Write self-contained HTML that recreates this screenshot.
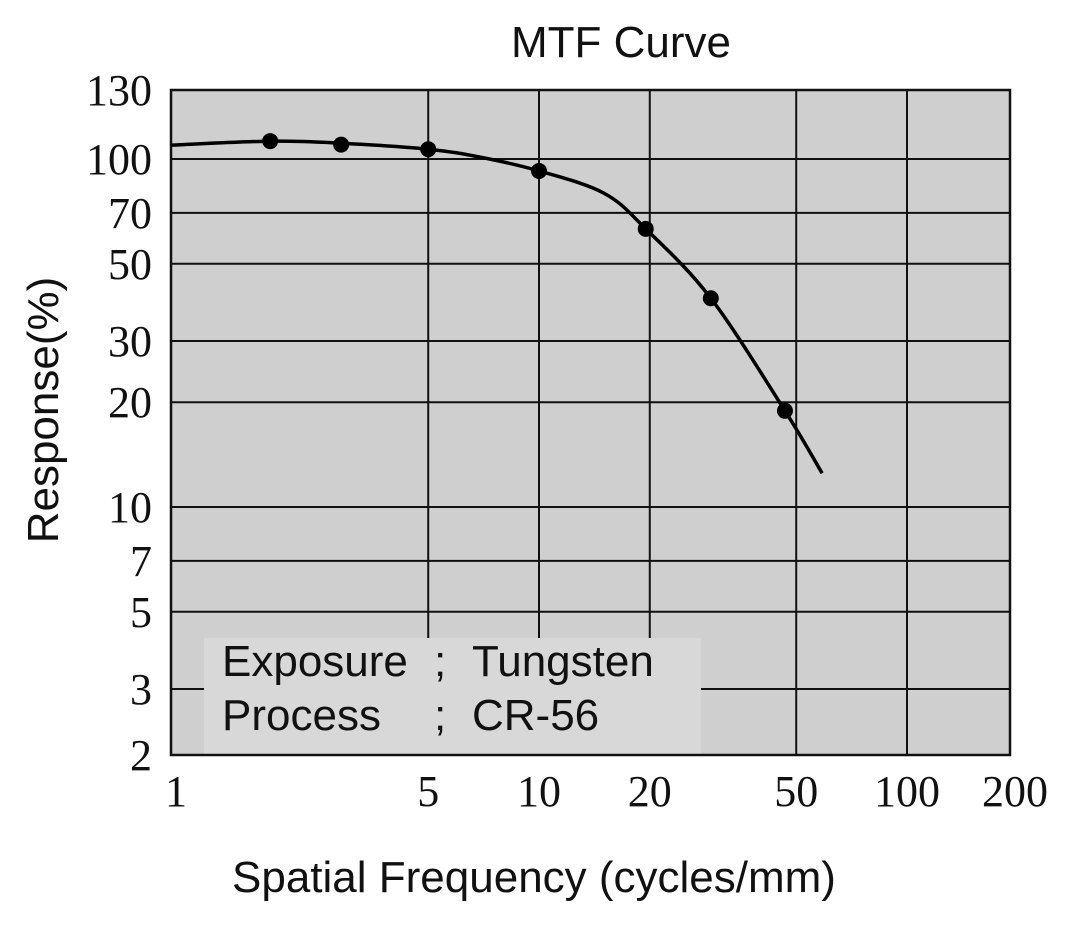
<!DOCTYPE html>
<html><head><meta charset="utf-8"><style>
body{margin:0;background:#fff}
svg{display:block}
.tk{font-family:"Liberation Serif",serif;font-size:44px;fill:#111}
.sn{font-family:"Liberation Sans",sans-serif;fill:#111}
</style></head><body>
<svg id="chart" width="1072" height="925" viewBox="0 0 1072 925">
<rect x="171" y="90" width="839" height="665" fill="#cfcfcf"/>
<g id="grid"></g>
<rect x="204" y="638" width="497" height="116" fill="#d8d8d8"/>
<text class="sn" x="222" y="676" font-size="44">Exposure</text>
<text class="sn" x="434" y="676" font-size="44">;</text>
<text class="sn" x="472" y="676" font-size="44">Tungsten</text>
<text class="sn" x="222" y="730" font-size="44">Process</text>
<text class="sn" x="434" y="730" font-size="44">;</text>
<text class="sn" x="472" y="730" font-size="44">CR-56</text>
<rect x="171" y="90" width="839" height="665" fill="none" stroke="#111" stroke-width="2.5"/>
<g id="marks"></g>
<g id="ticks"></g>
<text class="sn" x="621" y="57" font-size="44" text-anchor="middle">MTF Curve</text>
<text class="sn" x="534" y="892" font-size="44" text-anchor="middle">Spatial Frequency (cycles/mm)</text>
<text class="sn" transform="translate(58,410) rotate(-90)" font-size="44" text-anchor="middle">Response(%)</text>
</svg>
<script>
const xTicks=[1,5,10,20,50,100,200];
const yTicks=[130,100,70,50,30,20,10,7,5,3,2];
const pointFreq=[1.86,2.9,5,10,19.5,29.3,46.6];
const pointResp=[112.6,110,106.7,92.4,63,39.8,18.9];
const curveFreq=[1,1.86,2.9,5,7,10,15,19.5,29.3,46.6,58.8];
const curveResp=[109.6,112.5,111,106.7,101,92.4,79.8,63,39.8,18.9,12.5];
const X=v=>171+368*Math.log10(v);
const Y=v=>Math.max(90,507-348*Math.log10(v/10));
const NS="http://www.w3.org/2000/svg";
function mk(t,a,p){const e=document.createElementNS(NS,t);for(const k in a)e.setAttribute(k,a[k]);p.appendChild(e);return e;}
const grid=document.getElementById('grid'),ticks=document.getElementById('ticks'),marks=document.getElementById('marks');
xTicks.forEach(v=>{const x=X(v);
 if(v>1&&x<1005){const l=mk('line',{x1:x,x2:x,y1:90,y2:755,stroke:'#111','stroke-width':2},grid);
 
 }
 const t=mk('text',{x:v==200?1015:(v==1?176:x),y:806,class:'tk','text-anchor':'middle'},ticks);t.textContent=v;
 
 });
yTicks.forEach(v=>{const y=v==130?90:(v==2?755:Y(v));
 if(v!=130&&v!=2){const l=mk('line',{x1:171,x2:1010,y1:y,y2:y,stroke:'#111','stroke-width':2},grid);
 
 }
 const t=mk('text',{x:152,y:y+15,class:'tk','text-anchor':'end'},ticks);t.textContent=v;
 
 });
const P=curveFreq.map((f,i)=>[X(f),Y(curveResp[i])]);
let d='M'+P[0][0]+','+P[0][1];
for(let i=0;i<P.length-1;i++){const p0=P[Math.max(0,i-1)],p1=P[i],p2=P[i+1],p3=P[Math.min(P.length-1,i+2)];
 d+=' C'+(p1[0]+(p2[0]-p0[0])/6)+','+(p1[1]+(p2[1]-p0[1])/6)+' '+(p2[0]-(p3[0]-p1[0])/6)+','+(p2[1]-(p3[1]-p1[1])/6)+' '+p2[0]+','+p2[1];}
const c=mk('path',{d:d,fill:'none',stroke:'#000','stroke-width':3.5},marks);


pointFreq.forEach((f,i)=>{const e=mk('circle',{cx:X(f),cy:Y(pointResp[i]),r:8,fill:'#000'},marks);
 
 });
</script>
</body></html>
